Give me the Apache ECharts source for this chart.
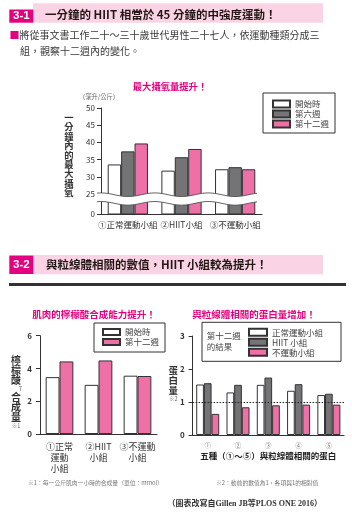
<!DOCTYPE html>
<html>
<head>
<meta charset="utf-8">
<script src="https://cdn.jsdelivr.net/npm/echarts@6/dist/echarts.min.js"></script>
<style>
html, body { margin: 0; padding: 0; background: #fff; }
#main { width: 352px; height: 516px; }
</style>
</head>
<body>
<div id="main"></div>
<script>
// 3-1 最大攝氧量
const groups1 = ['①正常運動小組', '②HIIT小組', '③不運動小組'];
const start1 = [33.6, 31.8, 32.2];
const week6 = [37.4, 35.7, 32.8];
const week12 = [39.7, 38.1, 32.2];
const ticks1 = [25, 30, 35, 40, 45, 50];
const breakBase = 19.2; // 斷軸下方「0」的位置

// 3-2 左：檸檬酸合成量
const groups2 = ['①正常\n運動\n小組', '②HIIT\n小組', '③不運動\n小組'];
const start2 = [3.47, 3.0, 3.56];
const end2 = [4.43, 4.49, 3.54];

// 3-2 右：蛋白量（相對值）
const proteins = ['①', '②', '③', '④', '⑤'];
const normal3 = [1.53, 1.29, 1.52, 1.34, 1.21];
const hiit3 = [1.57, 1.52, 1.74, 1.54, 1.25];
const none3 = [0.64, 0.84, 0.90, 0.92, 0.92];

const FONT = "'Noto Sans CJK TC', 'Noto Sans', sans-serif";
const PINK = '#ef6fa7', GRAY = '#747477', EDGE = '#333';
const MAGENTA = '#e4007f', BAND = '#fad4e4';

function txt(text, x, y, o) {
    return {
        type: 'text', z: 100, silent: true,
        style: Object.assign({
            text: text, x: x, y: y, fill: '#333', fontFamily: FONT, fontSize: 9,
            align: 'left', verticalAlign: 'middle'
        }, o || {})
    };
}
function rect(x, y, w, h, fill) {
    return { type: 'rect', z: 1, silent: true, shape: { x: x, y: y, width: w, height: h }, style: { fill: fill } };
}
function bar(name, data, color, idx, gap) {
    return {
        type: 'bar', name: name, data: data, xAxisIndex: idx, yAxisIndex: idx,
        barGap: 0, barCategoryGap: gap,
        itemStyle: { color: color, borderColor: EDGE, borderWidth: 1 },
        emphasis: { disabled: true }
    };
}

const axisLineStyle = { lineStyle: { color: '#333', width: 1 } };

let myChart = echarts.init(document.getElementById('main'));

let option = {
    animation: false,
    grid: [
        { left: 101, top: 108, width: 161, height: 106 },
        { left: 40, top: 335.7, width: 117, height: 98.3 },
        { left: 192.6, top: 336, width: 151.4, height: 99 }
    ],
    xAxis: [
        {
            type: 'category', gridIndex: 0, data: groups1,
            axisLine: axisLineStyle,
            axisTick: { alignWithLabel: true, length: 4, lineStyle: { color: '#333' } },
            axisLabel: { interval: 0, fontSize: 8.5, color: '#333', margin: 7, fontFamily: FONT }
        },
        {
            type: 'category', gridIndex: 1, data: groups2,
            axisLine: axisLineStyle,
            axisTick: { alignWithLabel: true, length: 4, lineStyle: { color: '#333' } },
            axisLabel: { interval: 0, fontSize: 9, lineHeight: 11, color: '#333', margin: 7, fontFamily: FONT }
        },
        {
            type: 'category', gridIndex: 2, data: proteins,
            axisLine: axisLineStyle,
            axisTick: { alignWithLabel: true, length: 4, lineStyle: { color: '#333' } },
            axisLabel: { interval: 0, fontSize: 6.5, color: '#777', margin: 7, fontFamily: FONT },
            name: '五種（①～⑤）與粒線體相關的蛋白', nameLocation: 'middle', nameGap: 17,
            nameTextStyle: { fontSize: 8.5, fontWeight: 'bold', color: '#222', fontFamily: FONT }
        }
    ],
    yAxis: [
        {
            type: 'value', gridIndex: 0, min: breakBase, max: 50,
            axisLine: { show: true, lineStyle: { color: '#333' } },
            axisTick: { show: true, length: 4, customValues: [breakBase].concat(ticks1), lineStyle: { color: '#333' } },
            axisLabel: {
                fontSize: 8, color: '#333', margin: 6, fontFamily: FONT,
                customValues: [breakBase].concat(ticks1),
                formatter: v => Math.abs(v - breakBase) < 0.01 ? '0' : String(Math.round(v))
            },
            splitLine: { show: false }
        },
        {
            type: 'value', gridIndex: 1, min: 0, max: 6, interval: 2,
            axisLine: { show: true, lineStyle: { color: '#333' } },
            axisTick: { show: true, length: 4, lineStyle: { color: '#333' } },
            axisLabel: { fontSize: 8, color: '#333', margin: 8, fontWeight: 'bold', fontFamily: FONT },
            splitLine: { show: false }
        },
        {
            type: 'value', gridIndex: 2, min: 0, max: 3, interval: 1,
            axisLine: { show: true, lineStyle: { color: '#333' } },
            axisTick: { show: true, length: 4, lineStyle: { color: '#333' } },
            axisLabel: { fontSize: 8, color: '#333', margin: 8, fontWeight: 'bold', fontFamily: FONT },
            splitLine: { show: false }
        }
    ],
    legend: [
        {
            data: ['開始時', '第六週', '第十二週'], orient: 'vertical', left: 263, top: 93,
            padding: [6, 6, 4, 9], itemWidth: 17, itemHeight: 7, itemGap: 0,
            borderColor: '#333', borderWidth: 1, selectedMode: false, icon: 'rect',
            textStyle: { fontSize: 8.5, lineHeight: 10, color: '#444', fontFamily: FONT }
        },
        {
            data: ['開始時', '第十二週'], orient: 'vertical', left: 94, top: 323,
            padding: [4, 6, 5, 8], itemWidth: 17, itemHeight: 6, itemGap: 0,
            borderColor: '#333', borderWidth: 1, selectedMode: false, icon: 'rect',
            textStyle: { fontSize: 8.5, lineHeight: 10, color: '#444', fontFamily: FONT }
        },
        {
            data: ['正常運動小組', 'HIIT 小組', '不運動小組'], orient: 'vertical', left: 202, top: 322.3,
            padding: [5, 18, 4, 46], itemWidth: 18, itemHeight: 7, itemGap: 0,
            borderColor: '#333', borderWidth: 1, selectedMode: false, icon: 'rect',
            textStyle: { fontSize: 8.5, lineHeight: 10, color: '#444', fontFamily: FONT }
        }
    ],
    series: [
        bar('開始時', start1, '#fff', 0, '25%'),
        bar('第六週', week6, GRAY, 0, '25%'),
        bar('第十二週', week12, PINK, 0, '25%'),
        {
            // 斷軸波浪
            type: 'custom', xAxisIndex: 0, yAxisIndex: 0, data: [0], silent: true, z: 10, clip: false,
            renderItem: function (params, api) {
                const c0 = api.coord([0, 25])[0];
                const c1 = api.coord([1, 25])[0];
                const P = c1 - c0;
                const yu = api.coord([0, 24.8])[1];
                const yl = api.coord([0, 22.3])[1];
                const cs = params.coordSys;
                const x0 = cs.x - 4, x1 = cs.x + cs.width - 5;
                const up = [], lo = [];
                for (let x = x0; x <= x1; x += 1) {
                    const w = 1.8 * Math.cos(2 * Math.PI * (x - c0) / P);
                    up.push([x, yu + w]);
                    lo.push([x, yl + w]);
                }
                return {
                    type: 'group',
                    children: [
                        { type: 'polygon', shape: { points: up.concat(lo.slice().reverse()) }, style: { fill: '#fff' } },
                        { type: 'polyline', shape: { points: up }, style: { stroke: '#555', lineWidth: 0.9, fill: null } },
                        { type: 'polyline', shape: { points: lo }, style: { stroke: '#555', lineWidth: 0.9, fill: null } }
                    ]
                };
            }
        },
        bar('開始時', start2, '#fff', 1, '29%'),
        bar('第十二週', end2, PINK, 1, '29%'),
        bar('正常運動小組', normal3, '#fff', 2, '24%'),
        bar('HIIT 小組', hiit3, GRAY, 2, '24%'),
        Object.assign(bar('不運動小組', none3, PINK, 2, '24%'), {
            markLine: {
                silent: true, symbol: 'none', label: { show: false },
                lineStyle: { color: '#222', type: [1.5, 1.5], width: 1 },
                data: [{ yAxis: 1 }]
            }
        })
    ],
    graphic: [
        // 3-1 標題列
        rect(33, 3.3, 290, 19.4, BAND),
        rect(9.3, 9.5, 24, 13.2, MAGENTA),
        txt('3-1', 21.3, 16.2, { fill: '#fff', fontWeight: 'bold', fontSize: 11.5, align: 'center', fontFamily: 'Liberation Sans, Arial, sans-serif' }),
        txt('一分鐘的 HIIT 相當於 45 分鐘的中強度運動！', 45, 15, { fontWeight: 'bold', fontSize: 11.5, fill: '#231815' }),
        txt('{m|■}將從事文書工作二十～三十歲世代男性二十七人，依運動種類分成三', 9.5, 35, {
            fontSize: 10, fill: '#3a3a3a',
            rich: { m: { fill: MAGENTA, fontSize: 10, fontFamily: FONT } }
        }),
        txt('組，觀察十二週內的變化。', 20, 51.7, { fontSize: 10, fill: '#3a3a3a' }),

        // 圖一文字
        txt('最大攝氧量提升！', 170, 86.5, { fontWeight: 'bold', fontSize: 9.3, fill: MAGENTA, align: 'center' }),
        txt('（毫升/公斤）', 99, 96.5, { fontSize: 6.3, fill: '#666', align: 'center' }),
        txt('一\n分\n鐘\n內\n的\n最\n大\n攝\n氧', 69, 155, { fontWeight: 'bold', fontSize: 9.3, lineHeight: 9.4, fill: '#333', align: 'center' }),

        // 3-2 標題列
        rect(33, 255, 290, 19.3, BAND),
        rect(9.3, 255.5, 24, 18.5, MAGENTA),
        txt('3-2', 21.3, 265, { fill: '#fff', fontWeight: 'bold', fontSize: 11.5, align: 'center', fontFamily: 'Liberation Sans, Arial, sans-serif' }),
        txt('與粒線體相關的數值，HIIT 小組較為提升！', 46, 265, { fontWeight: 'bold', fontSize: 11.5, fill: '#231815' }),
        rect(9, 283, 337, 3, '#333'),

        // 圖二左文字
        txt('肌肉的檸檬酸合成能力提升！', 94, 314, { fontWeight: 'bold', fontSize: 9.5, fill: MAGENTA, align: 'center' }),
        txt('檸\n檬\n酸', 16, 370.7, { fontWeight: 'bold', fontSize: 10, lineHeight: 10, align: 'center' }),
        txt('7', 20.5, 388.5, { fontSize: 6, fill: '#555', align: 'center' }),
        txt('合\n成\n量', 16, 407.3, { fontWeight: 'bold', fontSize: 10, lineHeight: 10, align: 'center' }),
        txt('※1', 16, 425.5, { fontSize: 5.5, fill: '#666', align: 'center' }),
        txt('※1：每一公斤肌肉一小時的合成量（單位：mmol）', 28, 482.7, { fontSize: 5.8, fill: '#777' }),

        // 圖二右文字
        txt('與粒線體相關的蛋白量增加！', 254, 314, { fontWeight: 'bold', fontSize: 9.5, fill: MAGENTA, align: 'center' }),
        txt('蛋\n白\n量', 173.3, 380, { fontWeight: 'bold', fontSize: 9.5, lineHeight: 10, align: 'center' }),
        txt('※2', 173.3, 399, { fontSize: 5.5, fill: '#666', align: 'center' }),
        txt('第十二週\n的結果', 206.7, 341.2, { fontSize: 8.5, lineHeight: 11, fill: '#444' }),
        txt('※2：動前的數值為1，各項與1的相對值', 216, 482.5, { fontSize: 5.8, fill: '#777' }),

        // 出處
        txt('（圖表改寫自Gillen JB等PLOS ONE 2016）', 322, 504, {
            fontSize: 8, fill: '#333', align: 'right', fontWeight: 'bold',
            fontFamily: "'Liberation Serif', 'DejaVu Serif', 'Noto Sans CJK TC', serif"
        })
    ]
};

myChart.setOption(option);
</script>
</body>
</html>
